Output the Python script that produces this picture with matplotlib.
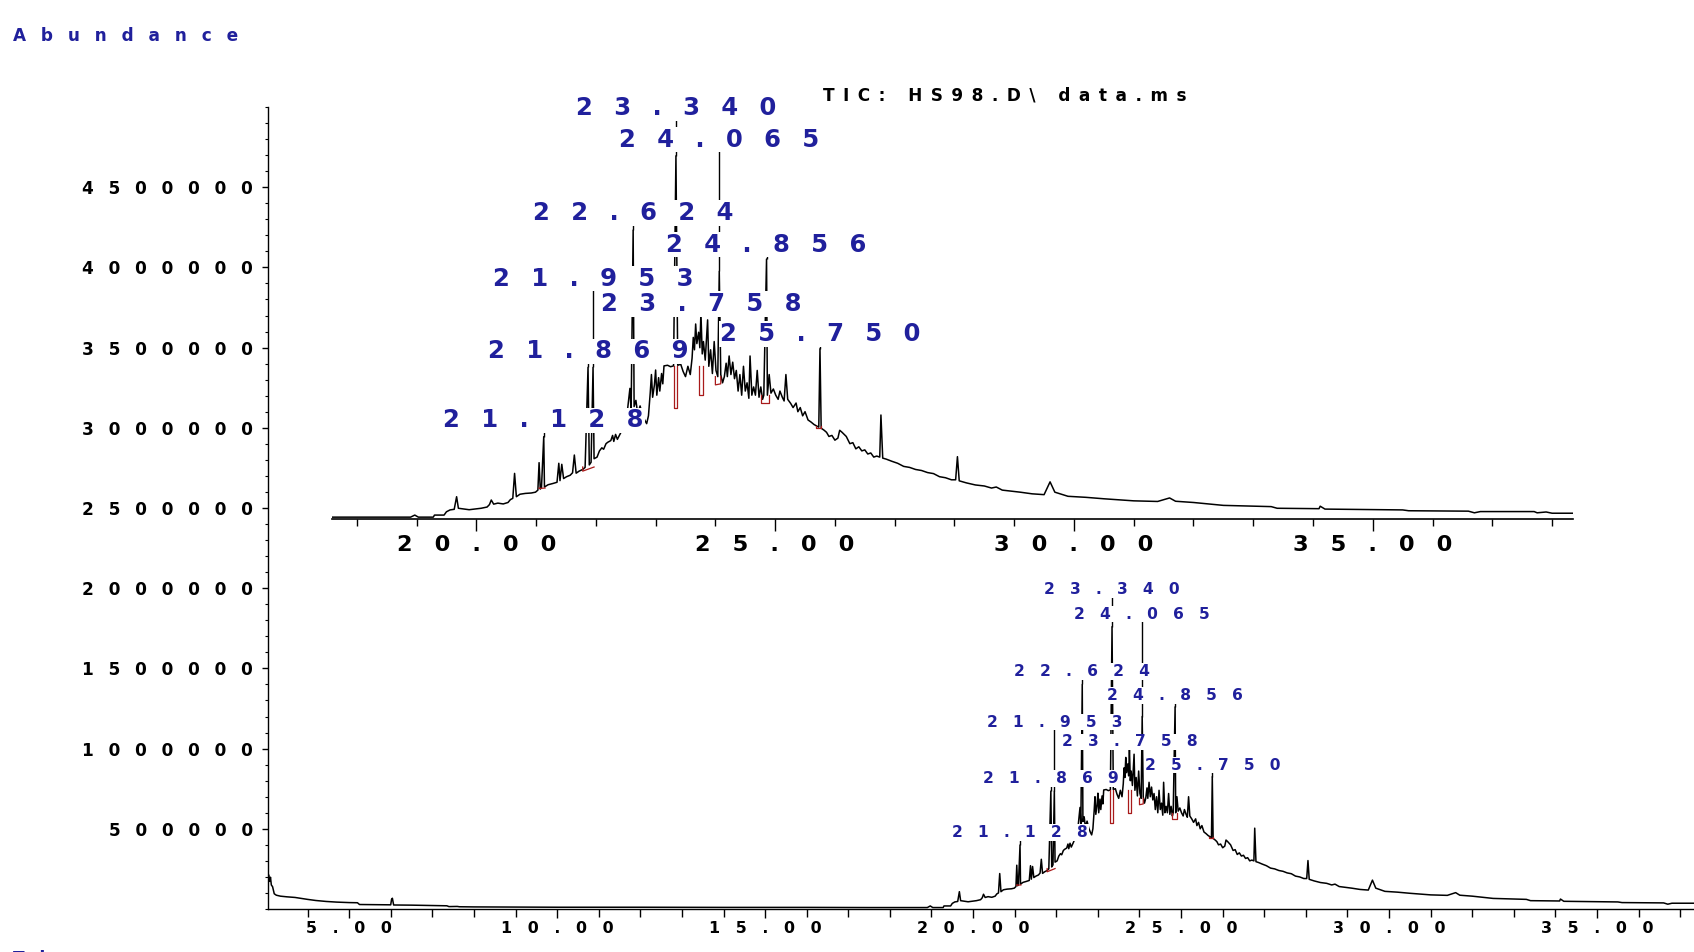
import numpy as np
import matplotlib
matplotlib.use("Agg")
import matplotlib.pyplot as plt
from matplotlib.ticker import MultipleLocator

plt.rcParams["font.family"] = ["DejaVu Sans"]
plt.rcParams["font.weight"] = "bold"

# ── TIC trace (retention time in min, abundance in thousands) ──
rt = [3.05, 3.07, 3.09, 3.11, 3.13, 3.16, 3.20, 3.25, 3.35, 3.50, 3.70, 3.90, 4.00, 4.20,
      4.45, 4.70, 5.00, 5.20, 5.25, 5.60, 6.00, 6.02, 6.04, 6.07, 6.50, 7.00, 7.35, 7.40,
      7.60, 7.65, 8.00, 9.00, 10.0, 12.0, 14.0, 16.0, 17.5, 18.90, 18.97, 19.03, 19.28,
      19.30, 19.46, 19.50, 19.56, 19.63, 19.67, 19.70, 19.78, 19.88, 19.97, 20.08, 20.18,
      20.22, 20.25, 20.29, 20.36, 20.45, 20.53, 20.57, 20.61, 20.64, 20.67, 20.73, 20.82,
      20.92, 20.99, 21.03, 21.05, 21.07, 21.09, 21.128, 21.14, 21.20, 21.28, 21.35, 21.38,
      21.40, 21.43, 21.46, 21.51, 21.57, 21.61, 21.64, 21.67, 21.72, 21.78, 21.82, 21.869,
      21.89, 21.92, 21.953, 21.97, 22.02, 22.06, 22.10, 22.13, 22.17, 22.20, 22.25, 22.28,
      22.30, 22.33, 22.36, 22.42, 22.48, 22.53, 22.57, 22.59, 22.624, 22.64, 22.67, 22.70,
      22.74, 22.78, 22.82, 22.85, 22.88, 22.91, 22.93, 22.95, 22.98, 23.00, 23.02, 23.05,
      23.07, 23.10, 23.12, 23.14, 23.20, 23.25, 23.30, 23.34, 23.37, 23.42, 23.46, 23.50,
      23.54, 23.58, 23.61, 23.63, 23.65, 23.67, 23.69, 23.72, 23.74, 23.758, 23.78, 23.80,
      23.83, 23.87, 23.89, 23.92, 23.95, 23.98, 24.01, 24.04, 24.065, 24.09, 24.12, 24.15,
      24.18, 24.20, 24.23, 24.26, 24.29, 24.32, 24.35, 24.38, 24.41, 24.44, 24.47, 24.50,
      24.53, 24.56, 24.58, 24.61, 24.64, 24.67, 24.70, 24.73, 24.76, 24.79, 24.81, 24.856,
      24.87, 24.90, 24.93, 24.97, 25.01, 25.05, 25.08, 25.12, 25.15, 25.18, 25.21, 25.26,
      25.30, 25.35, 25.38, 25.42, 25.46, 25.50, 25.55, 25.60, 25.65, 25.70, 25.73, 25.75,
      25.77, 25.82, 25.86, 25.90, 25.95, 26.00, 26.05, 26.08, 26.12, 26.19, 26.25, 26.30,
      26.35, 26.40, 26.45, 26.50, 26.55, 26.60, 26.65, 26.70, 26.75, 26.77, 26.80, 26.86,
      26.95, 27.05, 27.15, 27.25, 27.35, 27.45, 27.55, 27.65, 27.75, 27.85, 27.95, 28.02,
      28.05, 28.08, 28.20, 28.35, 28.50, 28.62, 28.70, 28.80, 28.95, 29.10, 29.30, 29.50,
      29.60, 29.68, 29.90, 30.20, 30.50, 30.80, 31.00, 31.40, 31.60, 31.70, 32.00, 32.50,
      33.00, 33.30, 33.40, 34.10, 34.12, 34.20, 34.80, 35.50, 35.60, 36.60, 36.70, 36.80,
      37.70, 37.75, 37.90, 38.00, 38.35]
abund_k = [165, 212, 172, 198, 150, 139, 95, 86, 80, 76, 72, 64, 60, 53,
           47, 43, 40, 39, 28, 27, 26, 60, 67, 25, 24, 22, 20, 15,
           16, 14, 13, 12, 11, 11, 10, 10, 9, 9, 19, 9, 9,
           19, 19, 35, 44, 47, 108, 52, 49, 45, 48, 52, 58,
           70, 92, 72, 77, 73, 80, 94, 100, 221, 108, 120, 124,
           126, 130, 140, 273, 145, 152, 399, 155, 166, 172, 178, 270,
           186, 265, 196, 205, 212, 224, 310, 222, 232, 240, 250, 735,
           262, 275, 735, 292, 300, 330, 345, 338, 365, 372, 380, 405,
           376, 410, 386, 420, 470, 530, 633, 520, 1400, 545, 575, 510,
           548, 505, 478, 462, 500, 612, 700, 590, 650, 722, 600, 685,
           620, 705, 655, 742, 745, 738, 742, 1760, 745, 750, 715, 690,
           740, 700, 780, 880, 820, 945, 850, 905, 830, 1000, 800, 860,
           770, 965, 740, 820, 705, 860, 720, 690, 1200, 700, 660, 690,
           755, 690, 790, 700, 760, 680, 720, 620, 700, 600, 740, 620,
           660, 585, 790, 600, 640, 600, 720, 590, 640, 580, 600, 1260,
           600, 700, 610, 630, 600, 580, 620, 590, 572, 700, 580, 560,
           540, 562, 520, 540, 500, 520, 480, 470, 458, 450, 445, 825,
           440, 430, 420, 400, 405, 382, 392, 430, 420, 400, 365, 370,
           340, 350, 330, 335, 315, 320, 300, 305, 300, 504, 295, 290,
           280, 270, 255, 250, 240, 235, 225, 220, 205, 200, 190, 190,
           302, 185, 175, 165, 160, 150, 155, 140, 135, 130, 122, 118,
           180, 130, 110, 105, 98, 92, 88, 85, 102, 86, 80, 66,
           62, 60, 52, 50, 62, 48, 46, 44, 40, 38, 30, 36,
           36, 30, 34, 28, 28]

# labelled peaks
peak_labels = ["21.128", "21.869", "21.953", "22.624", "23.340",
               "23.758", "24.065", "24.856", "25.750"]
peak_rt = [21.128, 21.869, 21.953, 22.624, 23.340, 23.758, 24.065, 24.856, 25.750]
peak_top_k = [399, 735, 735, 1400, 1760, 1000, 1200, 1260, 825]
label_y_k = [478, 812, 1165, 1482, 1992, 1042, 1839, 1330, 897]

# integration baselines (red): start, end, bottom at start, bottom at end, drop top
red_t0 = [21.05, 21.78, 23.30, 23.72, 24.00, 24.77, 25.68]
red_t1 = [21.15, 21.97, 23.36, 23.79, 24.09, 24.90, 25.77]
red_b0 = [148, 232, 536, 601, 650, 563, 440]
red_b1 = [150, 252, 536, 601, 655, 563, 440]
red_top = [150, 252, 742, 742, 690, 600, 450]

y_ticks = [500000, 1000000, 1500000, 2000000, 2500000, 3000000, 3500000, 4000000, 4500000]
x_ticks_main = [5, 10, 15, 20, 25, 30, 35]
x_ticks_inset = [20, 25, 30, 35]

BLUE = "#20209c"
RED = "#a81a1a"
EN = "\u2002"
MID = "\u2002\u2008"            # about 0.82 em
NARROW = "\u2002\u2008\u200a"   # about 0.92 em


def spaced(s, sep):
    return sep.join(s)


abund = np.array(abund_k) * 1000.0
peak_top = np.array(peak_top_k) * 1000.0
label_y = np.array(label_y_k) * 1000.0

W, H = 1694, 952
fig = plt.figure(figsize=(W / 100, H / 100), dpi=100)


def px_axes(left, top, right, bottom):
    return fig.add_axes([left / W, 1 - bottom / H, (right - left) / W, (bottom - top) / H])


def draw_chrom(a, fs, sep):
    a.plot(rt, abund, color="black", lw=1.1, zorder=3)
    for t0, t1, b0, b1, top in zip(red_t0, red_t1, red_b0, red_b1, red_top):
        a.plot([t0, t0, t1, t1], [top * 1000, b0 * 1000, b1 * 1000, top * 1000],
               color=RED, lw=0.9, zorder=3.5)
    a.vlines(peak_rt, peak_top, label_y, color="black", lw=1.0, zorder=2)
    for t, y, s in zip(peak_rt, label_y, peak_labels):
        a.text(t, y, spaced(s, sep), ha="center", va="center", fontsize=fs,
               color=BLUE, zorder=5,
               bbox=dict(facecolor="white", edgecolor="none", pad=0.6))


# ── full chromatogram ─────────────────────────────────────────────────────────
ax = px_axes(268, 107, 1694, 909)
draw_chrom(ax, 11.2, NARROW)
ax.set_xlim(3.05, 37.33)
ax.set_ylim(0, 5.0e6)
ax.set_yticks(y_ticks)
ax.set_yticklabels([spaced(str(v), MID) for v in y_ticks], fontsize=12.2)
ax.set_xticks(x_ticks_main)
ax.set_xticklabels([spaced(f"{v:.2f}", NARROW) for v in x_ticks_main], fontsize=11.4)
ax.yaxis.set_minor_locator(MultipleLocator(100000))
ax.xaxis.set_minor_locator(MultipleLocator(1))
ax.tick_params(axis="y", which="major", length=4, width=1, pad=7)
ax.tick_params(axis="y", which="minor", length=2.2, width=0.8)
ax.tick_params(axis="x", which="major", length=6.7, width=1, pad=2)
ax.tick_params(axis="x", which="minor", length=5.5, width=1)
ax.spines["top"].set_visible(False)
ax.spines["right"].set_visible(False)
for sp in ("left", "bottom"):
    ax.spines[sp].set_linewidth(1.0)
ax.patch.set_visible(False)

# ── expanded view ─────────────────────────────────────────────────────────────
axi = px_axes(331.7, 90, 1573, 519)
draw_chrom(axi, 17.5, MID)
axi.set_xlim(17.58, 38.35)
axi.set_ylim(0, 2.079e6)
axi.set_xticks(x_ticks_inset)
axi.set_xticklabels([spaced(f"{v:.2f}", NARROW) for v in x_ticks_inset], fontsize=16.2)
axi.xaxis.set_minor_locator(MultipleLocator(1))
axi.tick_params(axis="x", which="major", length=8.4, width=1, pad=3)
axi.tick_params(axis="x", which="minor", length=4.8, width=1)
axi.yaxis.set_visible(False)
for sp in ("top", "right", "left"):
    axi.spines[sp].set_visible(False)
axi.spines["bottom"].set_linewidth(1.2)
axi.patch.set_visible(False)

fig.text(13 / W, 1 - 35.7 / H, spaced("Abundance", MID), fontsize=12.2,
         color=BLUE, va="center")
fig.text(823 / W, 1 - 95 / H, spaced("TIC: HS98.D\\ data.ms", EN),
         fontsize=12.2, color="black", va="center")
fig.text(13 / W, 1 - 950 / H, spaced("Time-->", MID), fontsize=12.2,
         color=BLUE, va="top")

fig.savefig("out.png", dpi=100)
